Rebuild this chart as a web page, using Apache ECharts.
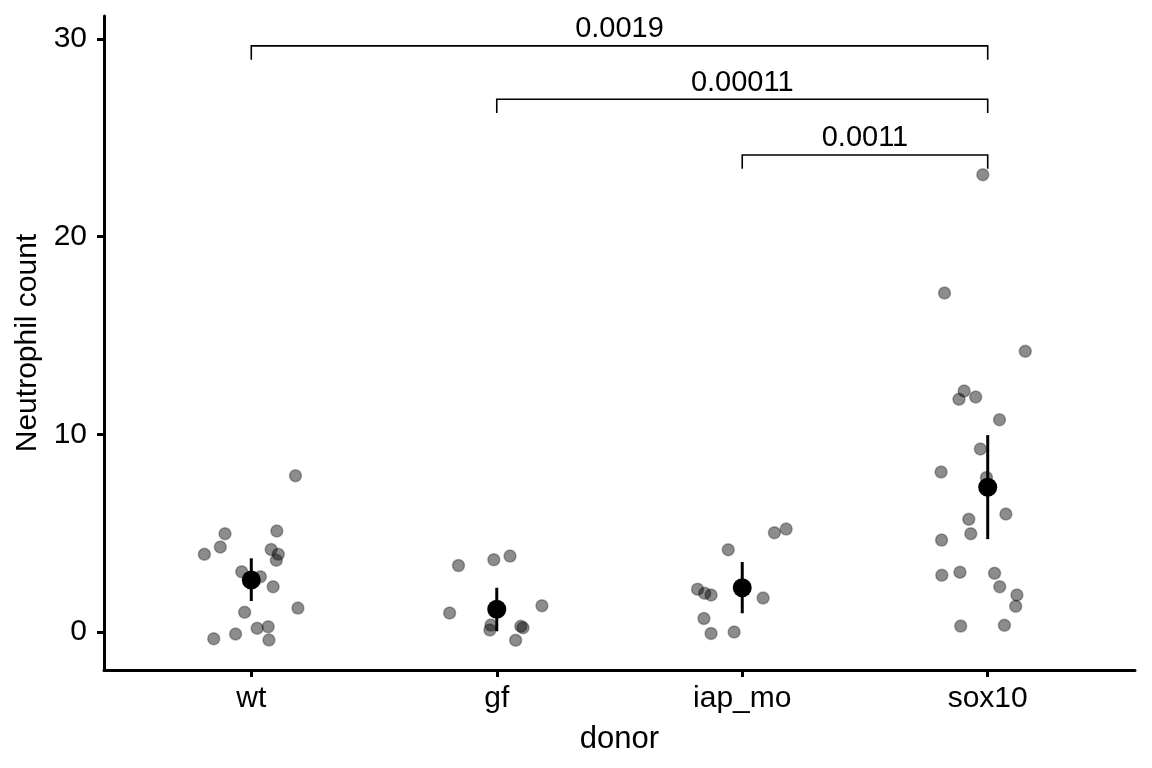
<!DOCTYPE html>
<html>
<head>
<meta charset="utf-8">
<script src="https://cdn.jsdelivr.net/npm/echarts@6/dist/echarts.min.js"></script>
<style>
html,body{margin:0;padding:0;background:#fff;}
#chart{width:1152px;height:768px;}
</style>
</head>
<body>
<div id="chart"></div>
<script>
// Categories (x positions 1..4 on a continuous axis so points can be jittered)
const categories = ['wt', 'gf', 'iap_mo', 'sox10'];
const yTicks = [0, 10, 20, 30];

// Jittered observations (x = jittered position, y = neutrophil count)
const wtX = [1.180, 1.104, 0.893, 0.874, 0.809, 1.081, 1.110, 1.102, 0.961, 1.037, 1.089, 0.973, 1.190, 1.024, 1.069, 0.936, 0.847, 1.072];
const wtY = [7.91, 5.11, 4.97, 4.30, 3.93, 4.18, 3.93, 3.63, 3.05, 2.80, 2.29, 1.00, 1.21, 0.19, 0.27, -0.10, -0.34, -0.40];

const gfX = [1.844, 1.988, 2.054, 1.808, 2.184, 1.976, 1.972, 2.098, 2.107, 2.077];
const gfY = [3.36, 3.66, 3.84, 0.96, 1.33, 0.35, 0.10, 0.29, 0.22, -0.42];

const iapX = [2.943, 3.131, 3.179, 2.818, 2.847, 2.873, 3.085, 2.844, 2.873, 2.967];
const iapY = [4.16, 5.02, 5.21, 2.17, 1.96, 1.87, 1.72, 0.69, -0.07, 0.00];

const soxX = [3.980, 3.824, 4.153, 3.904, 3.883, 3.951, 4.048, 3.970, 3.810, 3.995, 4.074, 3.923, 3.931, 3.812, 3.813, 3.887, 4.028, 4.049, 4.119, 4.114, 3.890, 4.068];
const soxY = [23.13, 17.15, 14.20, 12.19, 11.77, 11.89, 10.74, 9.26, 8.09, 7.82, 5.97, 5.70, 4.97, 4.65, 2.87, 3.03, 2.97, 2.29, 1.87, 1.30, 0.30, 0.34];

// Summary (mean with error range) per category
const meanVals = [2.63, 1.15, 2.24, 7.32];
const lowVals  = [1.57, 0.04, 0.95, 4.70];
const highVals = [3.73, 2.24, 3.54, 9.96];

// Significance brackets
const bracketFrom  = [1, 2, 3];
const bracketTo    = [4, 4, 4];
const bracketY     = [29.65, 26.95, 24.13];
const bracketDrop  = 0.7;
const bracketLabel = ['0.0019', '0.00011', '0.0011'];

const FONT = '"Liberation Sans", Arial, Helvetica, sans-serif';

function zip(xs, ys) { return xs.map((x, i) => [x, ys[i]]); }
const allPoints = [].concat(zip(wtX, wtY), zip(gfX, gfY), zip(iapX, iapY), zip(soxX, soxY));

const chart = echarts.init(document.getElementById('chart'), null, {renderer: 'canvas'});

const option = {
  backgroundColor: '#ffffff',
  animation: false,
  textStyle: {fontFamily: FONT},
  grid: {left: 104, right: 17, top: 16, bottom: 98, containLabel: false},
  xAxis: {
    type: 'value',
    min: 0.4,
    max: 4.6,
    name: 'donor',
    nameLocation: 'middle',
    nameGap: 54,
    nameTextStyle: {fontSize: 31, color: '#000', fontFamily: FONT},
    splitLine: {show: false},
    axisLine: {show: true, onZero: false, lineStyle: {color: '#000', width: 3}},
    axisTick: {show: true, length: 7, lineStyle: {color: '#000', width: 3}, customValues: [1, 2, 3, 4]},
    axisLabel: {
      fontSize: 30, color: '#000', margin: 14, fontFamily: FONT,
      customValues: [1, 2, 3, 4],
      formatter: v => categories[Math.round(v) - 1] || ''
    }
  },
  yAxis: {
    type: 'value',
    min: -1.92,
    max: 31.16,
    name: 'Neutrophil count',
    nameLocation: 'middle',
    nameRotate: 90,
    nameGap: 57,
    nameTextStyle: {fontSize: 30, color: '#000', fontFamily: FONT},
    splitLine: {show: false},
    axisLine: {show: true, onZero: false, lineStyle: {color: '#000', width: 3}},
    axisTick: {show: true, length: 7, lineStyle: {color: '#000', width: 3}, customValues: yTicks},
    axisLabel: {fontSize: 30, color: '#000', margin: 17, fontFamily: FONT, customValues: yTicks}
  },
  series: [
    {
      type: 'scatter',
      name: 'obs',
      data: allPoints,
      symbol: 'circle',
      symbolSize: 12,
      itemStyle: {color: 'rgba(0,0,0,0.45)', borderColor: 'rgba(0,0,0,0.3)', borderWidth: 1.5, opacity: 1},
      z: 2
    },
    {
      type: 'custom',
      name: 'errorbar',
      data: categories.map((c, i) => [i + 1, lowVals[i], highVals[i]]),
      encode: {x: 0, y: [1, 2]},
      clip: false,
      renderItem: function (params, api) {
        const x = api.value(0);
        const p1 = api.coord([x, api.value(1)]);
        const p2 = api.coord([x, api.value(2)]);
        return {type: 'line', shape: {x1: p1[0], y1: p1[1], x2: p2[0], y2: p2[1]},
                style: {stroke: '#000', lineWidth: 3}};
      },
      z: 3
    },
    {
      type: 'scatter',
      name: 'mean',
      data: categories.map((c, i) => [i + 1, meanVals[i]]),
      symbol: 'circle',
      symbolSize: 19,
      itemStyle: {color: '#000', opacity: 1},
      z: 4
    },
    {
      type: 'custom',
      name: 'brackets',
      data: bracketFrom.map((f, i) => [f, bracketTo[i], bracketY[i], i]),
      encode: {x: [0, 1], y: 2},
      clip: false,
      renderItem: function (params, api) {
        const f = api.value(0), t = api.value(1), y = api.value(2), idx = api.value(3);
        const a = api.coord([f, y - bracketDrop]);
        const b = api.coord([f, y]);
        const c = api.coord([t, y]);
        const d = api.coord([t, y - bracketDrop]);
        return {
          type: 'group',
          children: [
            {type: 'polyline', shape: {points: [a, b, c, d]},
             style: {stroke: '#000', fill: null, lineWidth: 1.6}},
            {type: 'text', x: (b[0] + c[0]) / 2, y: b[1] - 2,
             style: {text: bracketLabel[idx], fill: '#000', fontSize: 29, fontFamily: FONT,
                     align: 'center', verticalAlign: 'bottom'}}
          ]
        };
      },
      z: 5
    }
  ]
};

chart.setOption(option);
</script>
</body>
</html>
